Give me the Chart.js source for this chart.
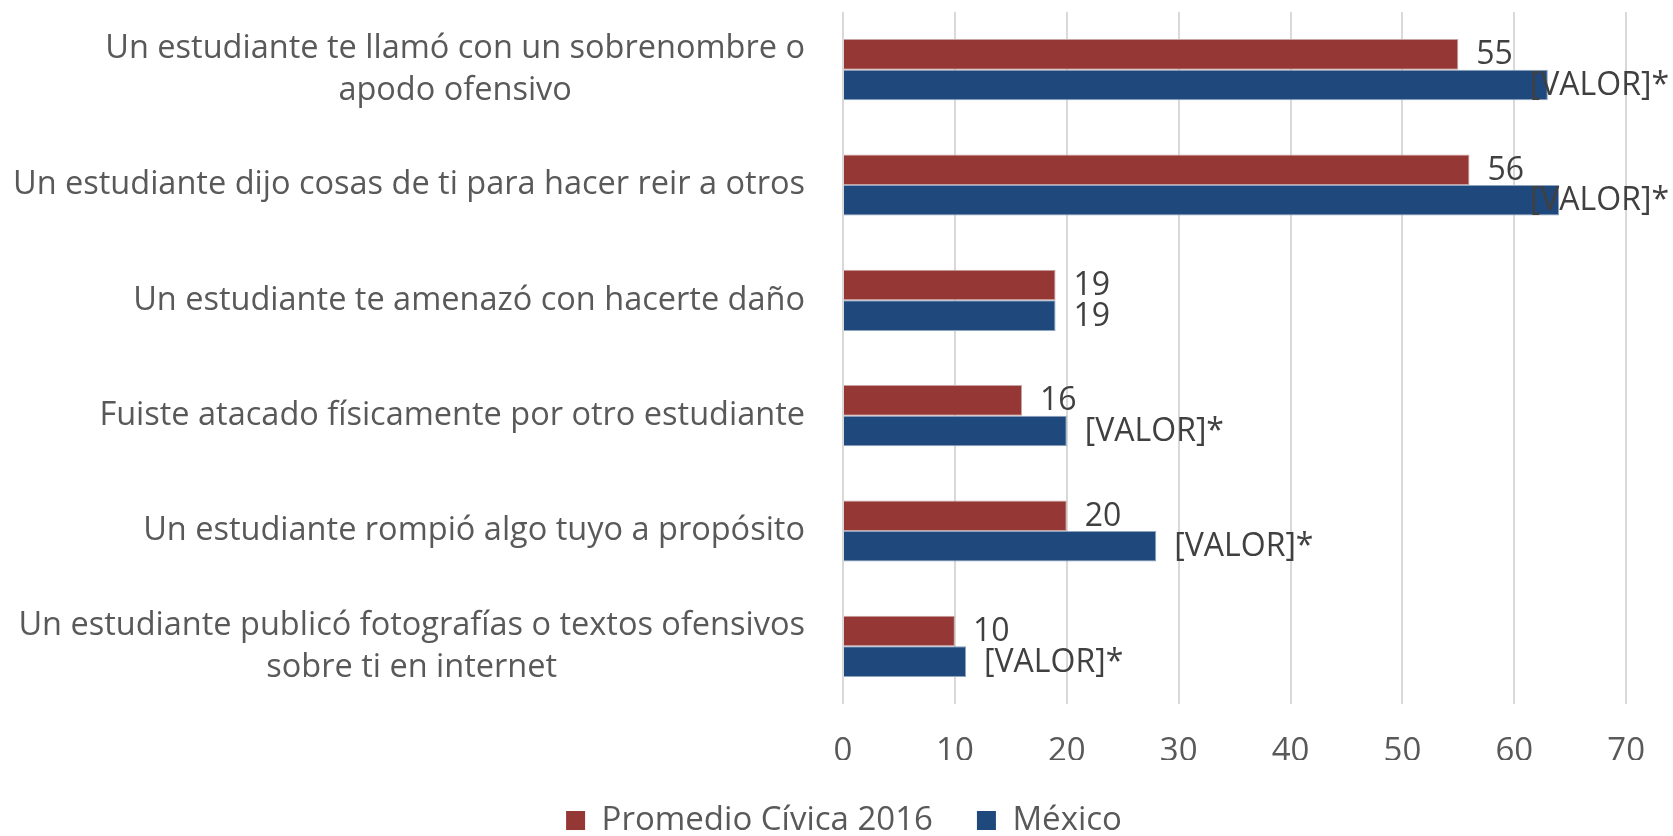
<!DOCTYPE html>
<html>
<head>
<meta charset="utf-8">
<script src="https://cdn.jsdelivr.net/npm/chart.js@4.4.1/dist/chart.umd.min.js"></script>
<style>
  html, body { margin: 0; padding: 0; background: #fff; }
  #wrap { width: 1673px; height: 836px; }
</style>
</head>
<body>
<div id="wrap"><canvas id="barChart"></canvas></div>
<script>
// DATA
const categories = [
    ["Un estudiante te llamó con un sobrenombre o", "apodo ofensivo"],
    ["Un estudiante dijo cosas de ti para hacer reir a otros"],
    ["Un estudiante te amenazó con hacerte daño"],
    ["Fuiste atacado físicamente por otro estudiante"],
    ["Un estudiante rompió algo tuyo a propósito"],
    ["Un estudiante publicó fotografías o textos ofensivos", "sobre ti en internet"]
];
const promedioValues = [55, 56, 19, 16, 20, 10];
const mexicoValues = [63, 64, 19, 20, 28, 11];
const promedioLabels = ["55", "56", "19", "16", "20", "10"];
const mexicoLabels = ["[VALOR]*", "[VALOR]*", "19", "[VALOR]*", "[VALOR]*", "[VALOR]*"];
const xTicks = [0, 10, 20, 30, 40, 50, 60, 70];

const FONT = "'Open Sans'";
const GREY = "#595959";

// CATEGORY LABELS (right-aligned block, lines centred inside it)
const categoryLabels = {
    id: "categoryLabels",
    afterDraw(chart) {
        const ctx = chart.ctx;
        const y = chart.scales.y;
        const right = 805;
        const lh = 42;
        ctx.save();
        ctx.font = `32.5px ${FONT}`;
        ctx.fillStyle = GREY;
        ctx.textAlign = "center";
        ctx.textBaseline = "middle";
        categories.forEach((lines, i) => {
            const cy = y.getPixelForValue(i);
            const w = Math.max(...lines.map(l => ctx.measureText(l).width));
            const cx = right - w / 2;
            lines.forEach((l, j) => {
                ctx.fillText(l, cx, cy + (j - (lines.length - 1) / 2) * lh);
            });
        });
        ctx.restore();
    }
};

// VALUE LABELS
const valueLabels = {
    id: "valueLabels",
    afterDatasetsDraw(chart) {
        const ctx = chart.ctx;
        ctx.save();
        ctx.font = `32px ${FONT}`;
        ctx.fillStyle = "#404040";
        ctx.textAlign = "left";
        ctx.textBaseline = "middle";
        chart.data.datasets.forEach((ds, di) => {
            const meta = chart.getDatasetMeta(di);
            meta.data.forEach((el, i) => {
                const txt = ds.valueText[i];
                const w = ctx.measureText(txt).width;
                const x = Math.min(el.x + 18, chart.width - w - 4);
                ctx.fillText(txt, x, el.y + 1);
            });
        });
        ctx.restore();
    }
};

const chart = new Chart(document.getElementById("barChart"), {
    type: "bar",
    data: {
        labels: categories.map(c => c.join(" ")),
        datasets: [
            {
                label: "Promedio Cívica 2016",
                data: promedioValues,
                valueText: promedioLabels,
                backgroundColor: "#953735",
                borderColor: "#c9a3a2",
                borderWidth: 1,
                categoryPercentage: 0.53,
                barPercentage: 1
            },
            {
                label: "México",
                data: mexicoValues,
                valueText: mexicoLabels,
                backgroundColor: "#1f497d",
                borderColor: "#8ea4be",
                borderWidth: 1,
                categoryPercentage: 0.53,
                barPercentage: 1
            }
        ]
    },
    options: {
        indexAxis: "y",
        responsive: true,
        maintainAspectRatio: false,
        animation: false,
        layout: { padding: { left: 61, right: 46, top: 12, bottom: 0 } },
        scales: {
            x: {
                min: 0,
                max: 70,
                afterBuildTicks: s => { s.ticks = xTicks.map(v => ({ value: v })); },
                afterFit: s => { s.height = 56; },
                grid: { color: "#d9d9d9", lineWidth: 2, drawTicks: false },
                border: { display: false },
                ticks: { color: GREY, font: { family: "Open Sans", size: 33 }, padding: 28 }
            },
            y: {
                grid: { display: false },
                border: { display: false },
                ticks: { display: false },
                afterFit: s => { s.width = 782; }
            }
        },
        plugins: {
            legend: {
                position: "bottom",
                maxHeight: 76,
                labels: {
                    color: GREY,
                    font: { family: "Open Sans", size: 33 },
                    boxWidth: 19,
                    boxHeight: 19,
                    padding: 44,
                    generateLabels: ch => ch.data.datasets.map((d, i) => ({
                        text: d.label,
                        fillStyle: d.backgroundColor,
                        strokeStyle: d.backgroundColor,
                        lineWidth: 0,
                        fontColor: GREY,
                        datasetIndex: i
                    }))
                }
            },
            tooltip: { enabled: false }
        }
    },
    plugins: [categoryLabels, valueLabels]
});
</script>
</body>
</html>
